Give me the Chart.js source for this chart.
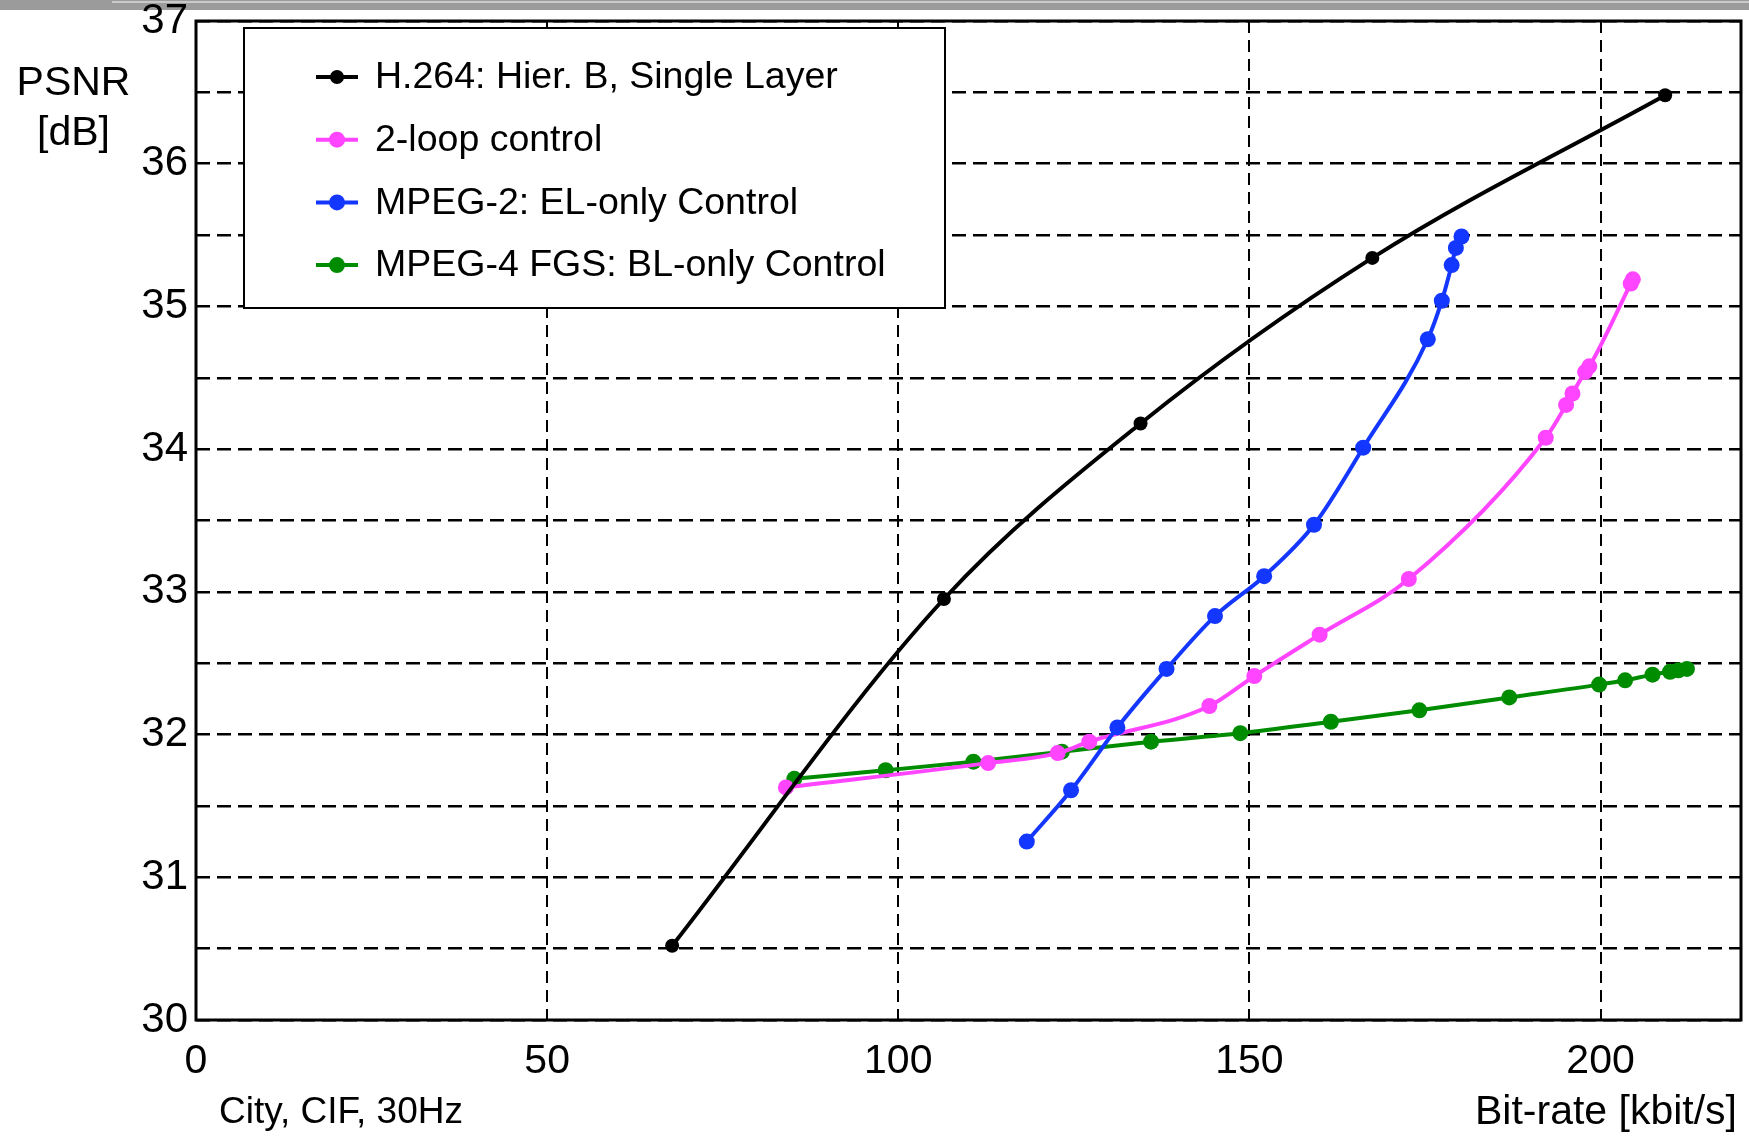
<!DOCTYPE html>
<html>
<head>
<meta charset="utf-8">
<script src="https://cdn.jsdelivr.net/npm/chart.js@4.4.1/dist/chart.umd.min.js"></script>
<style>
    body { margin: 0; background: #fff; }
    #wrap { position: relative; width: 1749px; height: 1137px; }
    #topbar { position: absolute; left: 0; top: 0; width: 1749px; height: 10px; background: #9b9b9b; }
    #topbar div { position: absolute; left: 112px; top: 1px; right: 0; height: 2px; background: #c9c9c9; }
    canvas { position: relative; }
</style>
</head>
<body>
<div id="wrap">
    <div id="topbar"><div></div></div>
    <canvas id="chart"></canvas>
</div>
<script>
const FONT = '"Liberation Sans", Arial, sans-serif'

// bit-rate [kbit/s] / PSNR [dB]
const h264Rate = [67.8, 106.5, 134.5, 167.5, 209.2]
const h264Psnr = [30.52, 32.95, 34.18, 35.34, 36.48]

const loopRate = [84.0, 112.8, 122.7, 127.2, 144.3, 150.7, 160.0, 172.7, 192.2, 195.1, 196.0, 197.8, 198.4, 204.3, 204.6]
const loopPsnr = [31.63, 31.80, 31.87, 31.95, 32.20, 32.41, 32.70, 33.09, 34.08, 34.31, 34.39, 34.54, 34.58, 35.16, 35.19]

const mpeg2Rate = [118.3, 124.6, 131.2, 138.2, 145.1, 152.1, 159.2, 166.2, 175.4, 177.4, 178.8, 179.4, 180.2]
const mpeg2Psnr = [31.25, 31.61, 32.05, 32.46, 32.83, 33.11, 33.47, 34.01, 34.77, 35.04, 35.29, 35.41, 35.49]

const fgsRate = [85.2, 98.2, 110.7, 123.3, 136.0, 148.7, 161.6, 174.2, 187.0, 199.8, 203.5, 207.4, 209.9, 211.1, 212.3]
const fgsPsnr = [31.69, 31.75, 31.81, 31.88, 31.95, 32.01, 32.09, 32.17, 32.26, 32.35, 32.38, 32.42, 32.44, 32.45, 32.46]

const seriesNames = ['H.264: Hier. B, Single Layer', '2-loop control', 'MPEG-2: EL-only Control', 'MPEG-4 FGS: BL-only Control']
const seriesColors = ['#000000', '#ff45ff', '#1437ff', '#008c00']

const toPoints = (xs, ys) => xs.map((x, i) => ({x: x, y: ys[i]}))

function makeSet(idx, xs, ys, radius, order) {
    return {
        label: seriesNames[idx],
        data: toPoints(xs, ys),
        borderColor: seriesColors[idx],
        backgroundColor: seriesColors[idx],
        borderWidth: 4,
        pointRadius: radius,
        pointBorderWidth: 0,
        cubicInterpolationMode: 'monotone',
        order: order
    }
}

// frame, legend box and the free texts
const decor = {
    id: 'decor',
    afterDatasetsDraw(chart) {
        const ctx = chart.ctx
        const a = chart.chartArea
        ctx.save()
        ctx.strokeStyle = '#000'
        ctx.lineWidth = 3
        ctx.strokeRect(a.left, a.top, a.right - a.left, a.bottom - a.top)

        // legend
        ctx.fillStyle = '#fff'
        ctx.fillRect(244, 28, 701, 280)
        ctx.lineWidth = 2
        ctx.strokeRect(244, 28, 701, 280)
        chart.data.datasets.forEach((ds, i) => {
            const y = 77 + i * 62.7
            ctx.strokeStyle = ds.borderColor
            ctx.lineWidth = 4
            ctx.beginPath()
            ctx.moveTo(316, y)
            ctx.lineTo(358, y)
            ctx.stroke()
            ctx.fillStyle = ds.borderColor
            ctx.beginPath()
            ctx.arc(337, y, ds.pointRadius, 0, Math.PI * 2)
            ctx.fill()
            ctx.fillStyle = '#000'
            ctx.font = '37.5px ' + FONT
            ctx.textAlign = 'left'
            ctx.textBaseline = 'middle'
            ctx.fillText(ds.label, 375, y + 1)
        })

        ctx.fillStyle = '#000'
        ctx.textBaseline = 'alphabetic'
        ctx.textAlign = 'center'
        ctx.font = '41px ' + FONT
        ctx.fillText('PSNR', 73.5, 95)
        ctx.fillText('[dB]', 73.5, 145)
        ctx.textAlign = 'left'
        ctx.font = '37px ' + FONT
        ctx.fillText('City, CIF, 30Hz', 219, 1123)
        ctx.textAlign = 'right'
        ctx.font = '41px ' + FONT
        ctx.fillText('Bit-rate [kbit/s]', 1737, 1124)
        ctx.restore()
    }
}

new Chart('chart', {
    type: 'line',
    data: {
        datasets: [
            makeSet(0, h264Rate, h264Psnr, 7, 1),
            makeSet(1, loopRate, loopPsnr, 8, 3),
            makeSet(2, mpeg2Rate, mpeg2Psnr, 8, 2),
            makeSet(3, fgsRate, fgsPsnr, 8, 4)
        ]
    },
    options: {
        responsive: true,
        maintainAspectRatio: false,
        animation: false,
        layout: {padding: {left: 0, top: 21, right: 7, bottom: 0}},
        plugins: {legend: {display: false}, tooltip: {enabled: false}},
        scales: {
            x: {
                type: 'linear',
                min: 0,
                max: 220,
                ticks: {
                    stepSize: 50,
                    autoSkip: false,
                    maxRotation: 0,
                    padding: 17,
                    color: '#000',
                    font: {family: FONT, size: 41},
                    callback: v => (v % 50 === 0 ? v : '')
                },
                grid: {
                    drawTicks: false,
                    lineWidth: 2,
                    color: c => (c.tick && c.tick.value % 50 === 0 ? '#000' : 'transparent')
                },
                border: {display: false, dash: [12, 7]},
                afterFit: s => { s.height = 117; s.paddingLeft = 0; s.paddingRight = 0 }
            },
            y: {
                min: 30,
                max: 37,
                ticks: {
                    stepSize: 0.5,
                    autoSkip: false,
                    padding: 8,
                    color: '#000',
                    font: {family: FONT, size: 42},
                    callback: v => (Number.isInteger(v) ? v : '')
                },
                grid: {drawTicks: false, lineWidth: 2.5, color: '#000'},
                border: {display: false, dash: [14, 7]},
                afterFit: s => { s.width = 196; s.paddingTop = 0; s.paddingBottom = 0 }
            }
        }
    },
    plugins: [decor]
})
</script>
</body>
</html>
